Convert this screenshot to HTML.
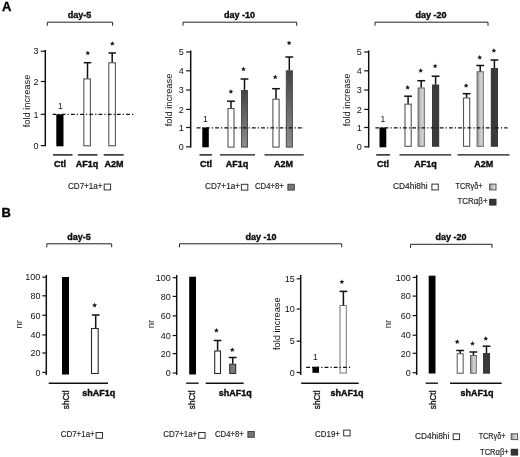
<!DOCTYPE html>
<html><head><meta charset="utf-8"><title>Figure</title>
<style>html,body{margin:0;padding:0;background:#fff;}body{width:520px;height:457px;overflow:hidden;font-family:"Liberation Sans",sans-serif;}svg{display:block;will-change:transform;filter:grayscale(1);}</style>
</head><body>
<svg width="520" height="457" viewBox="0 0 520 457" font-family="Liberation Sans, sans-serif">
<defs><linearGradient id="gv" x1="0" y1="0" x2="0" y2="1"><stop offset="0" stop-color="#444"/><stop offset="1" stop-color="#8e8e8e"/></linearGradient><linearGradient id="gh" x1="0" y1="0" x2="1" y2="0"><stop offset="0" stop-color="#8a8a8a"/><stop offset="0.45" stop-color="#c8c8c8"/><stop offset="1" stop-color="#dcdcdc"/></linearGradient></defs>
<rect width="520" height="457" fill="#fff"/>
<text x="2" y="11.2" font-size="13" font-weight="bold" stroke="#000" stroke-width="0.35" text-anchor="start" fill="#000" >A</text>
<text x="1.6" y="217" font-size="13" font-weight="bold" stroke="#000" stroke-width="0.35" text-anchor="start" fill="#000" >B</text>
<text x="79.5" y="17.7" font-size="9" font-weight="bold" stroke="#000" stroke-width="0.35" text-anchor="middle" fill="#111" >day-5</text>
<path d="M47.3,25.7 L47.3,22.2 L112.6,22.2 L112.6,25.7" fill="none" stroke="#222" stroke-width="1"/>
<line x1="45.3" y1="50" x2="45.3" y2="146.2" stroke="#111" stroke-width="1.5" />
<line x1="40.8" y1="51.2" x2="45.3" y2="51.2" stroke="#111" stroke-width="1.2" />
<text x="38.4" y="54.400000000000006" font-size="9" text-anchor="end" fill="#111" >3</text>
<line x1="40.8" y1="81.5" x2="45.3" y2="81.5" stroke="#111" stroke-width="1.2" />
<text x="38.4" y="84.7" font-size="9" text-anchor="end" fill="#111" >2</text>
<line x1="40.8" y1="114.3" x2="45.3" y2="114.3" stroke="#111" stroke-width="1.2" />
<text x="38.4" y="117.5" font-size="9" text-anchor="end" fill="#111" >1</text>
<line x1="40.8" y1="145.6" x2="45.3" y2="145.6" stroke="#111" stroke-width="1.2" />
<text x="38.4" y="148.79999999999998" font-size="9" text-anchor="end" fill="#111" >0</text>
<text transform="translate(30,101) rotate(-90)" font-size="9.3" text-anchor="middle" fill="#111" >fold increase</text>
<rect x="56.3" y="114.3" width="7.200000000000003" height="32.000000000000014" fill="#000"/>
<text x="60.3" y="108.5" font-size="8.5" text-anchor="middle" fill="#111" >1</text>
<rect x="83.8" y="78.9" width="6.6000000000000085" height="66.9" fill="#fff" stroke="#555" stroke-width="1.1"/>
<line x1="87.5" y1="62.7" x2="87.5" y2="78.4" stroke="#111" stroke-width="1.5" />
<line x1="83.8" y1="62.7" x2="91.2" y2="62.7" stroke="#111" stroke-width="1.5" />
<polygon points="87.80,50.50 88.48,52.17 90.27,52.30 88.89,53.46 89.33,55.20 87.80,54.25 86.27,55.20 86.71,53.46 85.33,52.30 87.12,52.17" fill="#1a1a1a"/>
<rect x="108.8" y="62.8" width="6.6000000000000085" height="83.00000000000001" fill="#fff" stroke="#555" stroke-width="1.1"/>
<line x1="112.2" y1="53" x2="112.2" y2="62.3" stroke="#111" stroke-width="1.5" />
<line x1="108.5" y1="53" x2="115.9" y2="53" stroke="#111" stroke-width="1.5" />
<polygon points="112.40,41.10 113.08,42.77 114.87,42.90 113.49,44.06 113.93,45.80 112.40,44.85 110.87,45.80 111.31,44.06 109.93,42.90 111.72,42.77" fill="#1a1a1a"/>
<line x1="53" y1="154.9" x2="72.5" y2="154.9" stroke="#111" stroke-width="1.4" />
<line x1="78" y1="154.9" x2="97.5" y2="154.9" stroke="#111" stroke-width="1.4" />
<line x1="103.7" y1="154.9" x2="123.7" y2="154.9" stroke="#111" stroke-width="1.4" />
<text x="60" y="166.6" font-size="9" font-weight="bold" stroke="#000" stroke-width="0.35" text-anchor="middle" fill="#111" >Ctl</text>
<text x="87" y="166.6" font-size="9" font-weight="bold" stroke="#000" stroke-width="0.35" text-anchor="middle" fill="#111" >AF1q</text>
<text x="114" y="166.6" font-size="9" font-weight="bold" stroke="#000" stroke-width="0.35" text-anchor="middle" fill="#111" >A2M</text>
<text x="68" y="189.1" font-size="8.4" text-anchor="start" fill="#222" textLength="34.5" lengthAdjust="spacingAndGlyphs" stroke="#222" stroke-width="0.15">CD7+1a+</text>
<rect x="104.2" y="184.10000000000002" width="6.4" height="5.8" fill="#fff" stroke="#333" stroke-width="1"/>
<text x="239.5" y="17.7" font-size="9" font-weight="bold" stroke="#000" stroke-width="0.35" text-anchor="middle" fill="#111" >day -10</text>
<path d="M183,25.7 L183,22.2 L296.7,22.2 L296.7,25.7" fill="none" stroke="#222" stroke-width="1"/>
<line x1="190.7" y1="50.5" x2="190.7" y2="147.6" stroke="#111" stroke-width="1.5" />
<line x1="186.2" y1="52" x2="190.7" y2="52" stroke="#111" stroke-width="1.2" />
<text x="183.79999999999998" y="55.2" font-size="9" text-anchor="end" fill="#111" >5</text>
<line x1="186.2" y1="70.8" x2="190.7" y2="70.8" stroke="#111" stroke-width="1.2" />
<text x="183.79999999999998" y="74.0" font-size="9" text-anchor="end" fill="#111" >4</text>
<line x1="186.2" y1="90" x2="190.7" y2="90" stroke="#111" stroke-width="1.2" />
<text x="183.79999999999998" y="93.2" font-size="9" text-anchor="end" fill="#111" >3</text>
<line x1="186.2" y1="109.4" x2="190.7" y2="109.4" stroke="#111" stroke-width="1.2" />
<text x="183.79999999999998" y="112.60000000000001" font-size="9" text-anchor="end" fill="#111" >2</text>
<line x1="186.2" y1="127.5" x2="190.7" y2="127.5" stroke="#111" stroke-width="1.2" />
<text x="183.79999999999998" y="130.7" font-size="9" text-anchor="end" fill="#111" >1</text>
<line x1="186.2" y1="146.8" x2="190.7" y2="146.8" stroke="#111" stroke-width="1.2" />
<text x="183.79999999999998" y="150.0" font-size="9" text-anchor="end" fill="#111" >0</text>
<text transform="translate(172,100) rotate(-90)" font-size="9.3" text-anchor="middle" fill="#111" >fold increase</text>
<rect x="202.3" y="127.5" width="6.5" height="19.80000000000001" fill="#000"/>
<text x="205.3" y="122" font-size="8.5" text-anchor="middle" fill="#111" >1</text>
<rect x="228.0" y="108.5" width="6.0" height="38.599999999999994" fill="#fff" stroke="#555" stroke-width="1.1"/>
<line x1="231" y1="101.2" x2="231" y2="108" stroke="#111" stroke-width="1.5" />
<line x1="227.1" y1="101.2" x2="234.9" y2="101.2" stroke="#111" stroke-width="1.5" />
<polygon points="230.90,89.00 231.58,90.67 233.37,90.80 231.99,91.96 232.43,93.70 230.90,92.75 229.37,93.70 229.81,91.96 228.43,90.80 230.22,90.67" fill="#1a1a1a"/>
<rect x="241.5" y="90.5" width="6" height="56.599999999999994" fill="url(#gv)" stroke="#4a4a4a" stroke-width="1"/>
<line x1="244.5" y1="79" x2="244.5" y2="90" stroke="#111" stroke-width="1.5" />
<line x1="240.6" y1="79" x2="248.4" y2="79" stroke="#111" stroke-width="1.5" />
<polygon points="243.50,66.60 244.18,68.27 245.97,68.40 244.59,69.56 245.03,71.30 243.50,70.35 241.97,71.30 242.41,69.56 241.03,68.40 242.82,68.27" fill="#1a1a1a"/>
<rect x="272.9" y="99.2" width="6.2000000000000455" height="47.89999999999999" fill="#fff" stroke="#555" stroke-width="1.1"/>
<line x1="276" y1="88.7" x2="276" y2="98.7" stroke="#111" stroke-width="1.5" />
<line x1="272.1" y1="88.7" x2="279.9" y2="88.7" stroke="#111" stroke-width="1.5" />
<polygon points="275.20,74.60 275.88,76.27 277.67,76.40 276.29,77.56 276.73,79.30 275.20,78.35 273.67,79.30 274.11,77.56 272.73,76.40 274.52,76.27" fill="#1a1a1a"/>
<rect x="286.3" y="70.8" width="6.099999999999966" height="76.3" fill="url(#gv)" stroke="#4a4a4a" stroke-width="1"/>
<line x1="289.3" y1="57" x2="289.3" y2="70.3" stroke="#111" stroke-width="1.5" />
<line x1="285.40000000000003" y1="57" x2="293.2" y2="57" stroke="#111" stroke-width="1.5" />
<polygon points="289.10,40.40 289.78,42.07 291.57,42.20 290.19,43.36 290.63,45.10 289.10,44.15 287.57,45.10 288.01,43.36 286.63,42.20 288.42,42.07" fill="#1a1a1a"/>
<line x1="199.5" y1="154.9" x2="212" y2="154.9" stroke="#111" stroke-width="1.4" />
<line x1="220" y1="154.9" x2="255" y2="154.9" stroke="#111" stroke-width="1.4" />
<line x1="264.5" y1="154.9" x2="303.7" y2="154.9" stroke="#111" stroke-width="1.4" />
<text x="206" y="166.6" font-size="9" font-weight="bold" stroke="#000" stroke-width="0.35" text-anchor="middle" fill="#111" >Ctl</text>
<text x="237" y="166.6" font-size="9" font-weight="bold" stroke="#000" stroke-width="0.35" text-anchor="middle" fill="#111" >AF1q</text>
<text x="283.5" y="166.6" font-size="9" font-weight="bold" stroke="#000" stroke-width="0.35" text-anchor="middle" fill="#111" >A2M</text>
<text x="205" y="189.4" font-size="8.4" text-anchor="start" fill="#222" textLength="35" lengthAdjust="spacingAndGlyphs" stroke="#222" stroke-width="0.15">CD7+1a+</text>
<rect x="241.4" y="184.3" width="6.4" height="5.8" fill="#fff" stroke="#333" stroke-width="1"/>
<text x="255" y="189.4" font-size="8.4" text-anchor="start" fill="#222" textLength="28.7" lengthAdjust="spacingAndGlyphs" stroke="#222" stroke-width="0.15">CD4+8+</text>
<rect x="287.9" y="184.3" width="6.4" height="5.8" fill="#777" stroke="#444" stroke-width="1"/>
<text x="431" y="17.7" font-size="9" font-weight="bold" stroke="#000" stroke-width="0.35" text-anchor="middle" fill="#111" >day -20</text>
<path d="M375,25.7 L375,22.2 L488,22.2 L488,25.7" fill="none" stroke="#222" stroke-width="1"/>
<line x1="368.7" y1="50.5" x2="368.7" y2="147.6" stroke="#111" stroke-width="1.5" />
<line x1="364.2" y1="52" x2="368.7" y2="52" stroke="#111" stroke-width="1.2" />
<text x="361.8" y="55.2" font-size="9" text-anchor="end" fill="#111" >5</text>
<line x1="364.2" y1="70.8" x2="368.7" y2="70.8" stroke="#111" stroke-width="1.2" />
<text x="361.8" y="74.0" font-size="9" text-anchor="end" fill="#111" >4</text>
<line x1="364.2" y1="90" x2="368.7" y2="90" stroke="#111" stroke-width="1.2" />
<text x="361.8" y="93.2" font-size="9" text-anchor="end" fill="#111" >3</text>
<line x1="364.2" y1="109.4" x2="368.7" y2="109.4" stroke="#111" stroke-width="1.2" />
<text x="361.8" y="112.60000000000001" font-size="9" text-anchor="end" fill="#111" >2</text>
<line x1="364.2" y1="127.5" x2="368.7" y2="127.5" stroke="#111" stroke-width="1.2" />
<text x="361.8" y="130.7" font-size="9" text-anchor="end" fill="#111" >1</text>
<line x1="364.2" y1="146.8" x2="368.7" y2="146.8" stroke="#111" stroke-width="1.2" />
<text x="361.8" y="150.0" font-size="9" text-anchor="end" fill="#111" >0</text>
<text transform="translate(350,100) rotate(-90)" font-size="9.3" text-anchor="middle" fill="#111" >fold increase</text>
<rect x="379.5" y="127.5" width="6.800000000000011" height="19.80000000000001" fill="#000"/>
<text x="382.8" y="122" font-size="8.5" text-anchor="middle" fill="#111" >1</text>
<rect x="405.0" y="104.2" width="6.199999999999989" height="42.10000000000001" fill="#fff" stroke="#555" stroke-width="1.1"/>
<line x1="408.1" y1="96.2" x2="408.1" y2="103.7" stroke="#111" stroke-width="1.5" />
<line x1="404.20000000000005" y1="96.2" x2="412.0" y2="96.2" stroke="#111" stroke-width="1.5" />
<polygon points="407.60,84.90 408.28,86.57 410.07,86.70 408.69,87.86 409.13,89.60 407.60,88.65 406.07,89.60 406.51,87.86 405.13,86.70 406.92,86.57" fill="#1a1a1a"/>
<rect x="418.1" y="88.0" width="6.199999999999989" height="58.30000000000001" fill="url(#gh)" stroke="#666" stroke-width="1"/>
<line x1="421.20000000000005" y1="80.7" x2="421.20000000000005" y2="87.5" stroke="#111" stroke-width="1.5" />
<line x1="417.30000000000007" y1="80.7" x2="425.1" y2="80.7" stroke="#111" stroke-width="1.5" />
<polygon points="420.70,68.10 421.38,69.77 423.17,69.90 421.79,71.06 422.23,72.80 420.70,71.85 419.17,72.80 419.61,71.06 418.23,69.90 420.02,69.77" fill="#1a1a1a"/>
<rect x="432" y="84.5" width="7.199999999999989" height="62.30000000000001" fill="#3a3a3a"/>
<line x1="435.6" y1="76.2" x2="435.6" y2="84.5" stroke="#111" stroke-width="1.5" />
<line x1="431.70000000000005" y1="76.2" x2="439.5" y2="76.2" stroke="#111" stroke-width="1.5" />
<polygon points="435.10,63.60 435.78,65.27 437.57,65.40 436.19,66.56 436.63,68.30 435.10,67.35 433.57,68.30 434.01,66.56 432.63,65.40 434.42,65.27" fill="#1a1a1a"/>
<rect x="463.5" y="98.0" width="6.199999999999989" height="48.30000000000001" fill="#fff" stroke="#555" stroke-width="1.1"/>
<line x1="466.6" y1="93.7" x2="466.6" y2="97.5" stroke="#111" stroke-width="1.5" />
<line x1="462.70000000000005" y1="93.7" x2="470.5" y2="93.7" stroke="#111" stroke-width="1.5" />
<polygon points="466.10,83.10 466.78,84.77 468.57,84.90 467.19,86.06 467.63,87.80 466.10,86.85 464.57,87.80 465.01,86.06 463.63,84.90 465.42,84.77" fill="#1a1a1a"/>
<rect x="477.1" y="71.7" width="6.199999999999989" height="74.60000000000001" fill="url(#gh)" stroke="#666" stroke-width="1"/>
<line x1="480.20000000000005" y1="65.5" x2="480.20000000000005" y2="71.2" stroke="#111" stroke-width="1.5" />
<line x1="476.30000000000007" y1="65.5" x2="484.1" y2="65.5" stroke="#111" stroke-width="1.5" />
<polygon points="479.70,54.90 480.38,56.57 482.17,56.70 480.79,57.86 481.23,59.60 479.70,58.65 478.17,59.60 478.61,57.86 477.23,56.70 479.02,56.57" fill="#1a1a1a"/>
<rect x="490.8" y="68" width="7.199999999999989" height="78.80000000000001" fill="#3a3a3a"/>
<line x1="494.40000000000003" y1="60" x2="494.40000000000003" y2="68" stroke="#111" stroke-width="1.5" />
<line x1="490.50000000000006" y1="60" x2="498.3" y2="60" stroke="#111" stroke-width="1.5" />
<polygon points="493.90,48.10 494.58,49.77 496.37,49.90 494.99,51.06 495.43,52.80 493.90,51.85 492.37,52.80 492.81,51.06 491.43,49.90 493.22,49.77" fill="#1a1a1a"/>
<line x1="376.2" y1="154.9" x2="390" y2="154.9" stroke="#111" stroke-width="1.4" />
<line x1="399.5" y1="154.9" x2="451.2" y2="154.9" stroke="#111" stroke-width="1.4" />
<line x1="457.5" y1="154.9" x2="509.5" y2="154.9" stroke="#111" stroke-width="1.4" />
<text x="383" y="166.6" font-size="9" font-weight="bold" stroke="#000" stroke-width="0.35" text-anchor="middle" fill="#111" >Ctl</text>
<text x="425.6" y="166.6" font-size="9" font-weight="bold" stroke="#000" stroke-width="0.35" text-anchor="middle" fill="#111" >AF1q</text>
<text x="483.7" y="166.6" font-size="9" font-weight="bold" stroke="#000" stroke-width="0.35" text-anchor="middle" fill="#111" >A2M</text>
<text x="393" y="189.4" font-size="8.4" text-anchor="start" fill="#222" textLength="34.5" lengthAdjust="spacingAndGlyphs" stroke="#222" stroke-width="0.15">CD4hi8hi</text>
<rect x="431.9" y="184.10000000000002" width="6.4" height="5.8" fill="#fff" stroke="#333" stroke-width="1"/>
<text x="455.5" y="189.4" font-size="8.4" text-anchor="start" fill="#222" textLength="27" lengthAdjust="spacingAndGlyphs" stroke="#222" stroke-width="0.15">TCR&#947;&#948;+</text>
<rect x="489.59999999999997" y="184.10000000000002" width="6.4" height="5.8" fill="url(#gh)" stroke="#555" stroke-width="1"/>
<text x="457.5" y="204.4" font-size="8.4" text-anchor="start" fill="#222" textLength="30" lengthAdjust="spacingAndGlyphs" stroke="#222" stroke-width="0.15">TCR&#945;&#946;+</text>
<rect x="489.09999999999997" y="198.8" width="7.4" height="6.8" fill="#333"/>
<text x="79" y="240.2" font-size="9" font-weight="bold" stroke="#000" stroke-width="0.35" text-anchor="middle" fill="#111" >day-5</text>
<path d="M46.8,247.3 L46.8,243.8 L111.7,243.8 L111.7,247.3" fill="none" stroke="#222" stroke-width="1"/>
<line x1="46.3" y1="275" x2="46.3" y2="375" stroke="#111" stroke-width="1.5" />
<line x1="42.3" y1="277.09999999999997" x2="46.3" y2="277.09999999999997" stroke="#111" stroke-width="1.2" />
<text x="40.4" y="280.29999999999995" font-size="9" text-anchor="end" fill="#111" >100</text>
<line x1="42.3" y1="295.8" x2="46.3" y2="295.8" stroke="#111" stroke-width="1.2" />
<text x="40.4" y="299.0" font-size="9" text-anchor="end" fill="#111" >80</text>
<line x1="42.3" y1="315.3" x2="46.3" y2="315.3" stroke="#111" stroke-width="1.2" />
<text x="40.4" y="318.5" font-size="9" text-anchor="end" fill="#111" >60</text>
<line x1="42.3" y1="334.9" x2="46.3" y2="334.9" stroke="#111" stroke-width="1.2" />
<text x="40.4" y="338.09999999999997" font-size="9" text-anchor="end" fill="#111" >40</text>
<line x1="42.3" y1="353.0" x2="46.3" y2="353.0" stroke="#111" stroke-width="1.2" />
<text x="40.4" y="356.2" font-size="9" text-anchor="end" fill="#111" >20</text>
<line x1="42.3" y1="372.4" x2="46.3" y2="372.4" stroke="#111" stroke-width="1.2" />
<text x="40.4" y="375.59999999999997" font-size="9" text-anchor="end" fill="#111" >0</text>
<text transform="translate(21.5,324.3) rotate(-90)" font-size="9.5" text-anchor="middle" fill="#111" >nr</text>
<rect x="62" y="277" width="7" height="97.5" fill="#000"/>
<rect x="91.5" y="328.5" width="6.700000000000003" height="45" fill="#fff" stroke="#2a2a2a" stroke-width="1.1"/>
<line x1="95.7" y1="315" x2="95.7" y2="328" stroke="#111" stroke-width="1.5" />
<line x1="91.8" y1="315" x2="99.60000000000001" y2="315" stroke="#111" stroke-width="1.5" />
<polygon points="94.60,302.70 95.28,304.37 97.07,304.50 95.69,305.66 96.13,307.40 94.60,306.45 93.07,307.40 93.51,305.66 92.13,304.50 93.92,304.37" fill="#1a1a1a"/>
<line x1="48.7" y1="383.2" x2="108" y2="383.2" stroke="#111" stroke-width="1.4" />
<text transform="translate(69,409.2) rotate(-90)" font-size="8.2" text-anchor="start" fill="#111" stroke="#111" stroke-width="0.3">shCtl</text>
<text x="98.7" y="395.7" font-size="9" font-weight="bold" stroke="#000" stroke-width="0.35" text-anchor="middle" fill="#111" >shAF1q</text>
<text x="60.7" y="436.7" font-size="8.4" text-anchor="start" fill="#222" textLength="34" lengthAdjust="spacingAndGlyphs" stroke="#222" stroke-width="0.15">CD7+1a+</text>
<rect x="96.10000000000001" y="432.5" width="6.4" height="5.8" fill="#fff" stroke="#333" stroke-width="1"/>
<text x="261" y="240.2" font-size="9" font-weight="bold" stroke="#000" stroke-width="0.35" text-anchor="middle" fill="#111" >day -10</text>
<path d="M179.5,247.3 L179.5,243.8 L341.7,243.8 L341.7,247.3" fill="none" stroke="#222" stroke-width="1"/>
<line x1="176.7" y1="275" x2="176.7" y2="375" stroke="#111" stroke-width="1.5" />
<line x1="172.7" y1="277.7" x2="176.7" y2="277.7" stroke="#111" stroke-width="1.2" />
<text x="170.79999999999998" y="280.9" font-size="9" text-anchor="end" fill="#111" >100</text>
<line x1="172.7" y1="296.40000000000003" x2="176.7" y2="296.40000000000003" stroke="#111" stroke-width="1.2" />
<text x="170.79999999999998" y="299.6" font-size="9" text-anchor="end" fill="#111" >80</text>
<line x1="172.7" y1="315.90000000000003" x2="176.7" y2="315.90000000000003" stroke="#111" stroke-width="1.2" />
<text x="170.79999999999998" y="319.1" font-size="9" text-anchor="end" fill="#111" >60</text>
<line x1="172.7" y1="335.5" x2="176.7" y2="335.5" stroke="#111" stroke-width="1.2" />
<text x="170.79999999999998" y="338.7" font-size="9" text-anchor="end" fill="#111" >40</text>
<line x1="172.7" y1="353.6" x2="176.7" y2="353.6" stroke="#111" stroke-width="1.2" />
<text x="170.79999999999998" y="356.8" font-size="9" text-anchor="end" fill="#111" >20</text>
<line x1="172.7" y1="373.0" x2="176.7" y2="373.0" stroke="#111" stroke-width="1.2" />
<text x="170.79999999999998" y="376.2" font-size="9" text-anchor="end" fill="#111" >0</text>
<text transform="translate(154.3,324) rotate(-90)" font-size="9.5" text-anchor="middle" fill="#111" >nr</text>
<rect x="189.2" y="276.7" width="6.800000000000011" height="97.80000000000001" fill="#000"/>
<rect x="214.7" y="351.0" width="5.800000000000011" height="22.5" fill="#fff" stroke="#2a2a2a" stroke-width="1.1"/>
<line x1="217.6" y1="340.5" x2="217.6" y2="350.5" stroke="#111" stroke-width="1.5" />
<line x1="213.7" y1="340.5" x2="221.5" y2="340.5" stroke="#111" stroke-width="1.5" />
<polygon points="216.40,327.90 217.08,329.57 218.87,329.70 217.49,330.86 217.93,332.60 216.40,331.65 214.87,332.60 215.31,330.86 213.93,329.70 215.72,329.57" fill="#1a1a1a"/>
<rect x="229.7" y="364.2" width="6.0" height="9.300000000000011" fill="#7a7a7a" stroke="#333" stroke-width="1.1"/>
<line x1="232.7" y1="357.5" x2="232.7" y2="363.7" stroke="#111" stroke-width="1.5" />
<line x1="228.79999999999998" y1="357.5" x2="236.6" y2="357.5" stroke="#111" stroke-width="1.5" />
<polygon points="232.30,347.30 232.98,348.97 234.77,349.10 233.39,350.26 233.83,352.00 232.30,351.05 230.77,352.00 231.21,350.26 229.83,349.10 231.62,348.97" fill="#1a1a1a"/>
<line x1="186.2" y1="383.2" x2="198.7" y2="383.2" stroke="#111" stroke-width="1.4" />
<line x1="205.7" y1="383.2" x2="243.7" y2="383.2" stroke="#111" stroke-width="1.4" />
<text transform="translate(195.3,409.2) rotate(-90)" font-size="8.2" text-anchor="start" fill="#111" stroke="#111" stroke-width="0.3">shCtl</text>
<text x="235.2" y="395.7" font-size="9" font-weight="bold" stroke="#000" stroke-width="0.35" text-anchor="middle" fill="#111" >shAF1q</text>
<text x="163.2" y="437.09999999999997" font-size="8.4" text-anchor="start" fill="#222" textLength="34" lengthAdjust="spacingAndGlyphs" stroke="#222" stroke-width="0.15">CD7+1a+</text>
<rect x="198.70000000000002" y="432.5" width="6.4" height="5.8" fill="#fff" stroke="#333" stroke-width="1"/>
<text x="215" y="437.09999999999997" font-size="8.4" text-anchor="start" fill="#222" textLength="28.7" lengthAdjust="spacingAndGlyphs" stroke="#222" stroke-width="0.15">CD4+8+</text>
<rect x="247.9" y="431.5" width="6.4" height="5.8" fill="#777" stroke="#444" stroke-width="1"/>
<line x1="300.7" y1="275" x2="300.7" y2="375" stroke="#111" stroke-width="1.5" />
<line x1="296.7" y1="278.8" x2="300.7" y2="278.8" stroke="#111" stroke-width="1.2" />
<text x="294.8" y="282.0" font-size="9" text-anchor="end" fill="#111" >15</text>
<line x1="296.7" y1="309" x2="300.7" y2="309" stroke="#111" stroke-width="1.2" />
<text x="294.8" y="312.2" font-size="9" text-anchor="end" fill="#111" >10</text>
<line x1="296.7" y1="341.2" x2="300.7" y2="341.2" stroke="#111" stroke-width="1.2" />
<text x="294.8" y="344.4" font-size="9" text-anchor="end" fill="#111" >5</text>
<line x1="296.7" y1="372.5" x2="300.7" y2="372.5" stroke="#111" stroke-width="1.2" />
<text x="294.8" y="375.7" font-size="9" text-anchor="end" fill="#111" >0</text>
<text transform="translate(280,323.7) rotate(-90)" font-size="9.3" text-anchor="middle" fill="#111" >fold increase</text>
<rect x="312.4" y="366.8" width="6.600000000000023" height="6.0" fill="#000"/>
<text x="315.3" y="360.2" font-size="8.5" text-anchor="middle" fill="#111" >1</text>
<rect x="340" y="305.5" width="6.3" height="67.5" fill="#fff" stroke="#777" stroke-width="1"/>
<line x1="343.4" y1="291.4" x2="343.4" y2="305.5" stroke="#111" stroke-width="1.5" />
<line x1="339.5" y1="291.4" x2="347.29999999999995" y2="291.4" stroke="#111" stroke-width="1.5" />
<polygon points="341.90,279.30 342.58,280.97 344.37,281.10 342.99,282.26 343.43,284.00 341.90,283.05 340.37,284.00 340.81,282.26 339.43,281.10 341.22,280.97" fill="#1a1a1a"/>
<line x1="301.2" y1="383.2" x2="358.7" y2="383.2" stroke="#111" stroke-width="1.4" />
<text transform="translate(319.5,409.2) rotate(-90)" font-size="8.2" text-anchor="start" fill="#111" stroke="#111" stroke-width="0.3">shCtl</text>
<text x="347" y="395.7" font-size="9" font-weight="bold" stroke="#000" stroke-width="0.35" text-anchor="middle" fill="#111" >shAF1q</text>
<text x="315" y="436.9" font-size="8.4" text-anchor="start" fill="#222" textLength="25" lengthAdjust="spacingAndGlyphs" stroke="#222" stroke-width="0.15">CD19+</text>
<rect x="343.7" y="430.1" width="6.4" height="5.8" fill="#fff" stroke="#333" stroke-width="1"/>
<text x="451" y="240.2" font-size="9" font-weight="bold" stroke="#000" stroke-width="0.35" text-anchor="middle" fill="#111" >day -20</text>
<path d="M410.5,247.8 L410.5,244.3 L492,244.3 L492,247.8" fill="none" stroke="#222" stroke-width="1"/>
<line x1="416.7" y1="275" x2="416.7" y2="375" stroke="#111" stroke-width="1.5" />
<line x1="412.7" y1="277.4" x2="416.7" y2="277.4" stroke="#111" stroke-width="1.2" />
<text x="410.8" y="280.59999999999997" font-size="9" text-anchor="end" fill="#111" >100</text>
<line x1="412.7" y1="296.1" x2="416.7" y2="296.1" stroke="#111" stroke-width="1.2" />
<text x="410.8" y="299.3" font-size="9" text-anchor="end" fill="#111" >80</text>
<line x1="412.7" y1="315.6" x2="416.7" y2="315.6" stroke="#111" stroke-width="1.2" />
<text x="410.8" y="318.8" font-size="9" text-anchor="end" fill="#111" >60</text>
<line x1="412.7" y1="335.2" x2="416.7" y2="335.2" stroke="#111" stroke-width="1.2" />
<text x="410.8" y="338.4" font-size="9" text-anchor="end" fill="#111" >40</text>
<line x1="412.7" y1="353.3" x2="416.7" y2="353.3" stroke="#111" stroke-width="1.2" />
<text x="410.8" y="356.5" font-size="9" text-anchor="end" fill="#111" >20</text>
<line x1="412.7" y1="372.7" x2="416.7" y2="372.7" stroke="#111" stroke-width="1.2" />
<text x="410.8" y="375.9" font-size="9" text-anchor="end" fill="#111" >0</text>
<text transform="translate(390.7,324) rotate(-90)" font-size="9.5" text-anchor="middle" fill="#111" >nr</text>
<rect x="428.7" y="275.7" width="6.800000000000011" height="97.80000000000001" fill="#000"/>
<rect x="457.2" y="353.7" width="6.0" height="19.5" fill="#fff" stroke="#666" stroke-width="1.1"/>
<line x1="460.2" y1="350.5" x2="460.2" y2="353.2" stroke="#111" stroke-width="1.5" />
<line x1="456.3" y1="350.5" x2="464.09999999999997" y2="350.5" stroke="#111" stroke-width="1.5" />
<polygon points="457.20,339.20 457.88,340.87 459.67,341.00 458.29,342.16 458.73,343.90 457.20,342.95 455.67,343.90 456.11,342.16 454.73,341.00 456.52,340.87" fill="#1a1a1a"/>
<rect x="470.5" y="355.5" width="5.800000000000011" height="17.69999999999999" fill="url(#gh)" stroke="#666" stroke-width="1"/>
<line x1="473.4" y1="352" x2="473.4" y2="355" stroke="#111" stroke-width="1.5" />
<line x1="469.5" y1="352" x2="477.29999999999995" y2="352" stroke="#111" stroke-width="1.5" />
<polygon points="472.50,341.10 473.18,342.77 474.97,342.90 473.59,344.06 474.03,345.80 472.50,344.85 470.97,345.80 471.41,344.06 470.03,342.90 471.82,342.77" fill="#1a1a1a"/>
<rect x="483" y="353" width="7" height="20.69999999999999" fill="#3a3a3a"/>
<line x1="486.5" y1="346.2" x2="486.5" y2="353" stroke="#111" stroke-width="1.5" />
<line x1="482.6" y1="346.2" x2="490.4" y2="346.2" stroke="#111" stroke-width="1.5" />
<polygon points="485.80,336.10 486.48,337.77 488.27,337.90 486.89,339.06 487.33,340.80 485.80,339.85 484.27,340.80 484.71,339.06 483.33,337.90 485.12,337.77" fill="#1a1a1a"/>
<line x1="425.7" y1="383.2" x2="438" y2="383.2" stroke="#111" stroke-width="1.4" />
<line x1="450" y1="383.2" x2="501.7" y2="383.2" stroke="#111" stroke-width="1.4" />
<text transform="translate(435.8,409.2) rotate(-90)" font-size="8.2" text-anchor="start" fill="#111" stroke="#111" stroke-width="0.3">shCtl</text>
<text x="477" y="395.7" font-size="9" font-weight="bold" stroke="#000" stroke-width="0.35" text-anchor="middle" fill="#111" >shAF1q</text>
<text x="415" y="439.4" font-size="8.4" text-anchor="start" fill="#222" textLength="34.3" lengthAdjust="spacingAndGlyphs" stroke="#222" stroke-width="0.15">CD4hi8hi</text>
<rect x="453.2" y="433.8" width="6.4" height="5.8" fill="#fff" stroke="#333" stroke-width="1"/>
<text x="478.7" y="439.4" font-size="8.4" text-anchor="start" fill="#222" textLength="26.8" lengthAdjust="spacingAndGlyphs" stroke="#222" stroke-width="0.15">TCR&#947;&#948;+</text>
<rect x="511.2" y="433.8" width="6.4" height="5.8" fill="url(#gh)" stroke="#555" stroke-width="1"/>
<text x="480" y="454.9" font-size="8.4" text-anchor="start" fill="#222" textLength="28.8" lengthAdjust="spacingAndGlyphs" stroke="#222" stroke-width="0.15">TCR&#945;&#946;+</text>
<rect x="510.7" y="448.8" width="7.4" height="6.8" fill="#333"/>
<line x1="50.8" y1="114.3" x2="134.5" y2="114.3" stroke="#111" stroke-width="1.3" stroke-dasharray="3.8,2.1,1.2,2.1" stroke-dashoffset="-1.7"/>
<line x1="195" y1="127.8" x2="304" y2="127.8" stroke="#111" stroke-width="1.3" stroke-dasharray="3.8,2.1,1.2,2.1" stroke-dashoffset="-1.7"/>
<line x1="373.7" y1="127.8" x2="507.5" y2="127.8" stroke="#111" stroke-width="1.3" stroke-dasharray="3.8,2.1,1.2,2.1" stroke-dashoffset="-1.7"/>
<line x1="306.2" y1="367.4" x2="351.5" y2="367.4" stroke="#111" stroke-width="1.3" stroke-dasharray="3.8,2.1,1.2,2.1" stroke-dashoffset="0"/>
</svg>
</body></html>
